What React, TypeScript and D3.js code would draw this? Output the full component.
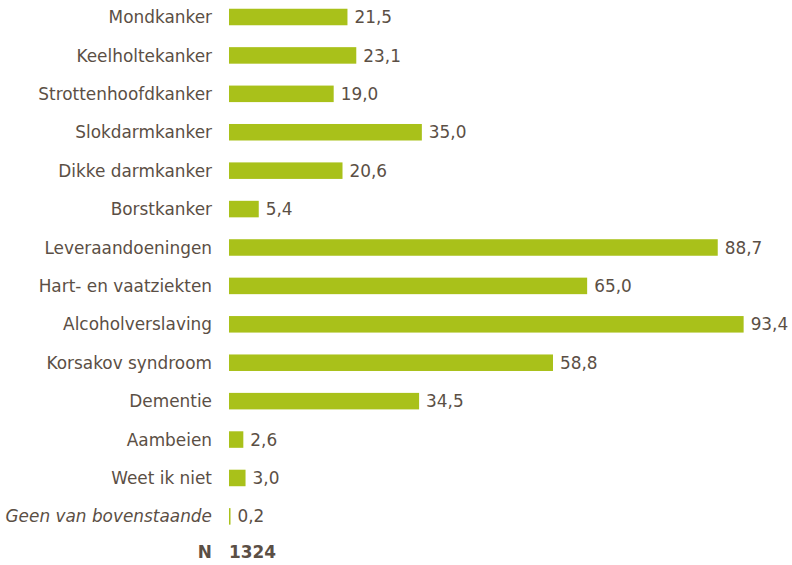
import React, { useEffect, useRef } from 'react';
import * as d3 from 'd3';

const categories = [
  'Mondkanker',
  'Keelholtekanker',
  'Strottenhoofdkanker',
  'Slokdarmkanker',
  'Dikke darmkanker',
  'Borstkanker',
  'Leveraandoeningen',
  'Hart- en vaatziekten',
  'Alcoholverslaving',
  'Korsakov syndroom',
  'Dementie',
  'Aambeien',
  'Weet ik niet',
  'Geen van bovenstaande',
];
const values = [21.5, 23.1, 19.0, 35.0, 20.6, 5.4, 88.7, 65.0, 93.4, 58.8, 34.5, 2.6, 3.0, 0.2];
const italicCats = ['Geen van bovenstaande'];
const nLabel = 'N';
const nValue = '1324';

const App: React.FC = () => {
  const svgRef = useRef<SVGSVGElement>(null);

  useEffect(() => {
    if (!svgRef.current) return;
    const svg = d3.select(svgRef.current);
    svg.selectAll('*').remove();

    const textColor = '#5b4f45';
    const barColor = '#a9c11a';
    const font = 'DejaVu Sans, Verdana, sans-serif';
    const fontSize = 16.9;

    const rows = [...categories, nLabel];
    const yScale = d3.scaleBand()
      .domain(rows)
      .range([-2.2, 574])
      .paddingInner(0.57)
      .paddingOuter(0.285);

    const xScale = d3.scaleLinear()
      .domain([0, 100])
      .range([229, 780]);

    const g = svg.append('g');

    g.selectAll('rect')
      .data(categories)
      .join('rect')
      .attr('x', xScale(0))
      .attr('y', d => (yScale(d) || 0))
      .attr('width', (d, i) => Math.max(xScale(values[i]) - xScale(0), 1.5))
      .attr('height', yScale.bandwidth())
      .attr('fill', barColor);

    const mid = (d: string) => (yScale(d) || 0) + yScale.bandwidth() / 2;

    g.selectAll('text.cat')
      .data(categories)
      .join('text')
      .attr('class', 'cat')
      .attr('x', 212)
      .attr('y', d => mid(d))
      .attr('dy', '0.36em')
      .attr('text-anchor', 'end')
      .attr('font-family', font)
      .attr('font-size', fontSize)
      .attr('font-style', d => (italicCats.includes(d) ? 'italic' : 'normal'))
      .attr('fill', textColor)
      .text(d => d);

    g.selectAll('text.val')
      .data(categories)
      .join('text')
      .attr('class', 'val')
      .attr('x', (d, i) => Math.max(xScale(values[i]), xScale(0) + 1.5) + 7)
      .attr('y', d => mid(d))
      .attr('dy', '0.36em')
      .attr('font-family', font)
      .attr('font-size', fontSize)
      .attr('fill', textColor)
      .text((d, i) => d3.format('.1f')(values[i]).replace('.', ','));

    // N row sits a little closer to the last bar
    const nY = mid(nLabel) - 2.5;

    g.append('text')
      .attr('x', 212)
      .attr('y', nY)
      .attr('dy', '0.36em')
      .attr('text-anchor', 'end')
      .attr('font-family', font)
      .attr('font-size', fontSize)
      .attr('font-weight', 'bold')
      .attr('fill', textColor)
      .text(nLabel);

    g.append('text')
      .attr('x', 229)
      .attr('y', nY)
      .attr('dy', '0.36em')
      .attr('font-family', font)
      .attr('font-size', fontSize)
      .attr('font-weight', 'bold')
      .attr('fill', textColor)
      .text(nValue);
  }, []);

  return (
    <svg
      ref={svgRef}
      width={792}
      height={565}
      style={{ position: 'absolute', left: 0, top: 0, background: '#fff' }}
    />
  );
};

export default App;
